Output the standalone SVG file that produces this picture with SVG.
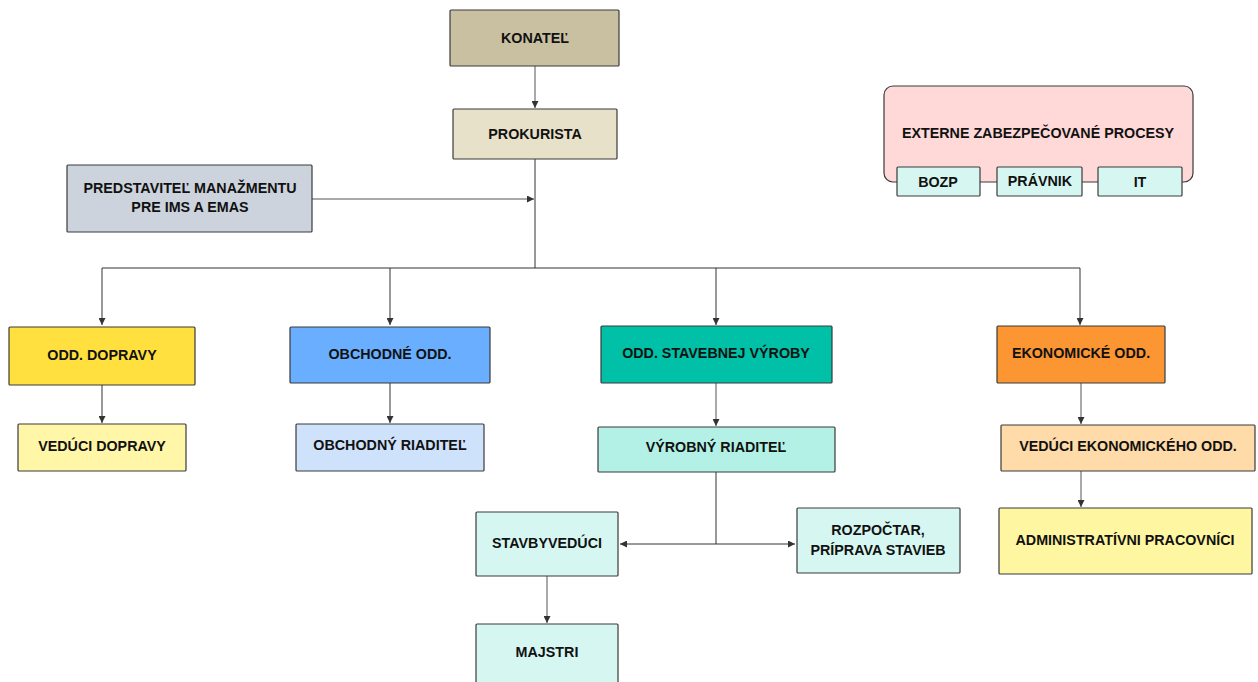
<svg xmlns="http://www.w3.org/2000/svg" width="1258" height="682" viewBox="0 0 1258 682">
<defs>
<marker id="ah" viewBox="0 0 8 8" refX="8" refY="4" markerWidth="7" markerHeight="7" markerUnits="userSpaceOnUse" orient="auto">
<path d="M0,0 L8,4 L0,8 Z" fill="#333"/>
</marker>
</defs>
<style>
.n rect{stroke:#3a3a3a;stroke-width:1.2}
text{font-family:"Liberation Sans",Arial,sans-serif;font-weight:bold;font-size:14.3px;fill:#111;text-anchor:middle;dominant-baseline:central}
.c{fill:none;stroke:#333;stroke-width:1}
.g{fill:none;stroke:#555;stroke-width:1}
</style>
<rect width="1258" height="682" fill="#fff"/>
<g id="connectors">
<path class="g" d="M535,66 V108" marker-end="url(#ah)"/>
<path class="c" d="M535,159 V268"/>
<path class="g" d="M312,199 H534" marker-end="url(#ah)"/>
<path class="c" d="M102,268 H1080"/>
<path class="c" d="M102,268 V325" marker-end="url(#ah)"/>
<path class="c" d="M390,268 V325" marker-end="url(#ah)"/>
<path class="c" d="M716,268 V325" marker-end="url(#ah)"/>
<path class="c" d="M1080,268 V325" marker-end="url(#ah)"/>
<path class="c" d="M102,385 V423" marker-end="url(#ah)"/>
<path class="c" d="M390,383 V423" marker-end="url(#ah)"/>
<path class="g" d="M716,383 V426" marker-end="url(#ah)"/>
<path class="c" d="M716,472 V544"/>
<path class="c" d="M716,544 H620" marker-end="url(#ah)"/>
<path class="c" d="M716,544 H795" marker-end="url(#ah)"/>
<path class="g" d="M547,576 V623" marker-end="url(#ah)"/>
<path class="g" d="M1081,383 V424" marker-end="url(#ah)"/>
<path class="g" d="M1081,471 V507" marker-end="url(#ah)"/>
</g>
<g class="n" id="konatel"><rect x="450" y="10" width="169" height="56" rx="1" fill="#c9c0a2"/><text x="535" y="38">KONATEĽ</text></g>
<g class="n" id="prokurista"><rect x="453" y="109" width="164" height="50" rx="1" fill="#e8e1c9"/><text x="535" y="134">PROKURISTA</text></g>
<g class="n" id="predstavitel"><rect x="67" y="165" width="245" height="67" rx="1" fill="#ccd3dc"/><text x="190" y="188">PREDSTAVITEĽ MANAŽMENTU</text><text x="190" y="207">PRE IMS A EMAS</text></g>
<g class="n" id="externe"><rect x="884" y="86" width="309" height="96" rx="9" fill="#ffd8d8"/><text x="1038" y="133">EXTERNE ZABEZPEČOVANÉ PROCESY</text></g>
<g class="n" id="bozp"><rect x="897" y="167" width="83" height="29" rx="1" fill="#d6f7f1"/><text x="938" y="182">BOZP</text></g>
<g class="n" id="pravnik"><rect x="997" y="167" width="85" height="29" rx="1" fill="#d6f7f1"/><text x="1040" y="181">PRÁVNIK</text></g>
<g class="n" id="it"><rect x="1098" y="167" width="84" height="29" rx="1" fill="#d6f7f1"/><text x="1140" y="182">IT</text></g>
<g class="n" id="odd-dopravy"><rect x="9" y="327" width="186" height="58" rx="1" fill="#ffe03f"/><text x="102" y="355">ODD. DOPRAVY</text></g>
<g class="n" id="veduci-dopravy"><rect x="18" y="424" width="168" height="47" rx="1" fill="#fff6a8"/><text x="102" y="446">VEDÚCI DOPRAVY</text></g>
<g class="n" id="obchodne-odd"><rect x="290" y="327" width="200" height="56" rx="1" fill="#69aeff"/><text x="390" y="354">OBCHODNÉ ODD.</text></g>
<g class="n" id="obchodny-riaditel"><rect x="296" y="424" width="188" height="47" rx="1" fill="#cfe2fc"/><text x="390" y="445">OBCHODNÝ RIADITEĽ</text></g>
<g class="n" id="odd-stavebnej"><rect x="601" y="326" width="231" height="57" rx="1" fill="#00c0a7"/><text x="716" y="353">ODD. STAVEBNEJ VÝROBY</text></g>
<g class="n" id="vyrobny-riaditel"><rect x="598" y="427" width="237" height="45" rx="1" fill="#b3f1e6"/><text x="716" y="447">VÝROBNÝ RIADITEĽ</text></g>
<g class="n" id="stavbyveduci"><rect x="476" y="512" width="142" height="64" rx="1" fill="#d6f7f1"/><text x="547" y="543">STAVBYVEDÚCI</text></g>
<g class="n" id="rozpoctar"><rect x="797" y="508" width="163" height="65" rx="1" fill="#d6f7f1"/><text x="878" y="530">ROZPOČTAR,</text><text x="878" y="550">PRÍPRAVA STAVIEB</text></g>
<g class="n" id="majstri"><rect x="476" y="624" width="142" height="70" rx="1" fill="#d6f7f1"/><text x="547" y="652">MAJSTRI</text></g>
<g class="n" id="ekonomicke-odd"><rect x="997" y="326" width="168" height="57" rx="1" fill="#fb9633"/><text x="1081" y="353">EKONOMICKÉ ODD.</text></g>
<g class="n" id="veduci-ekon"><rect x="1001" y="425" width="254" height="46" rx="1" fill="#fedba8"/><text x="1128" y="446">VEDÚCI EKONOMICKÉHO ODD.</text></g>
<g class="n" id="administrativni"><rect x="999" y="508" width="253" height="66" rx="1" fill="#fff6a1"/><text x="1125" y="540">ADMINISTRATÍVNI PRACOVNÍCI</text></g>
</svg>
